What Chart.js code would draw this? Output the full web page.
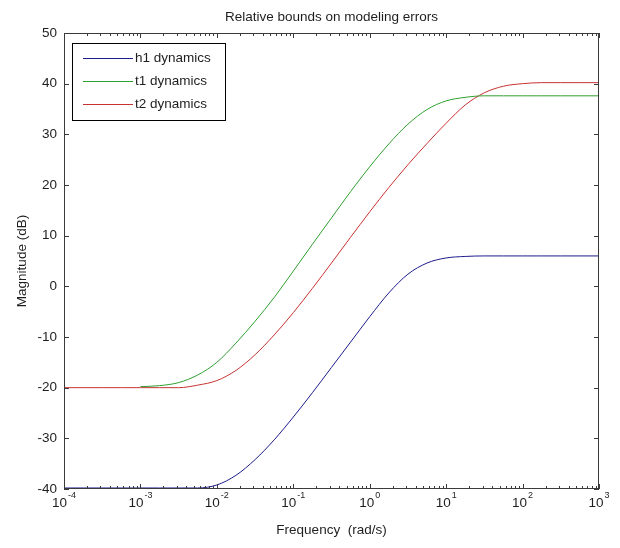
<!DOCTYPE html>
<html><head><meta charset="utf-8">
<script src="https://cdn.jsdelivr.net/npm/chart.js@4"></script>
<style>html,body{margin:0;padding:0;background:#fff;}#wrap{width:620px;height:548px;}</style>
</head><body><div id="wrap"><canvas id="c" width="620" height="548"></canvas></div>
<script>
// ---- data ----
const frequency = [
  1e-4, 1.778e-4, 3.162e-4, 5.623e-4,
  1e-3, 1.778e-3, 3.162e-3, 5.623e-3,
  1e-2, 1.778e-2, 3.162e-2, 5.623e-2,
  1e-1, 1.778e-1, 3.162e-1, 5.623e-1,
  1, 1.778, 3.162, 5.623,
  10, 17.78, 31.62, 56.23,
  100, 177.8, 316.2, 562.3,
  1000
];
const h1Dynamics = [
  -39.8, -39.8, -39.8, -39.8,
  -39.8, -39.8, -39.8, -39.8,
  -39.2, -37.3, -34.2, -30.3,
  -25.8, -21.0, -16.0, -11.0,
  -6.0, -1.3, 2.4, 4.6,
  5.6, 5.9, 6.0, 6.0,
  6.0, 6.0, 6.0, 6.0,
  6.0
];
const t1Dynamics = [
  null, null, null, null,
  -19.8, -19.6, -19.0, -17.5,
  -15.0, -11.2, -6.9, -2.2,
  3.0, 8.3, 13.5, 18.7,
  23.6, 28.1, 32.0, 34.9,
  36.6, 37.3, 37.6, 37.6,
  37.6, 37.6, 37.6, 37.6,
  37.6
];
const t2Dynamics = [
  -20.0, -20.0, -20.0, -20.0,
  -20.0, -20.0, -20.0, -19.5,
  -18.6, -16.6, -13.5, -9.6,
  -5.2, -0.4, 4.6, 9.7,
  14.7, 19.5, 24.0, 28.2,
  32.2, 35.8, 38.2, 39.5,
  40.0, 40.2, 40.2, 40.2,
  40.2
];
const seriesNames = ['h1 dynamics', 't1 dynamics', 't2 dynamics'];
const xTickExponents = ['-4', '-3', '-2', '-1', '0', '1', '2', '3'];
const yTickValues = [-40, -30, -20, -10, 0, 10, 20, 30, 40, 50];
const titleText = 'Relative bounds on modeling errors';
const xTitleText = 'Frequency  (rad/s)';
const yTitleText = 'Magnitude (dB)';

// ---- chart ----
const FONT = "'Liberation Sans', Arial, Helvetica, sans-serif";
const FS = 13.5;
const TEXT = '#1e1e1e';
const AXIS = '#3a3a3a';
const colors = ['#1c1c8c', '#2e9e2e', '#c83232'];
Chart.defaults.font.family = FONT;

function pts(values) { return frequency.map((f, i) => ({ x: f, y: values[i] })); }

const matlabAxes = {
  id: 'matlabAxes',
  afterDatasetsDraw(chart) {
    const { ctx, chartArea: a, scales: { x, y } } = chart;
    ctx.save();
    ctx.strokeStyle = AXIS;
    ctx.lineWidth = 1;
    ctx.strokeRect(Math.round(a.left) + 0.5, Math.round(a.top) + 0.5,
                   Math.round(a.right - a.left) - 1, Math.round(a.bottom - a.top) - 1);
    ctx.beginPath();
    for (const e of xTickExponents) {
      const base = Math.pow(10, Number(e));
      for (let m = 1; m <= 9; m++) {
        const v = base * m;
        if (v > x.max * 1.0001) break;
        const px = Math.round(x.getPixelForValue(v)) + 0.5;
        const len = m === 1 ? 5 : 3;
        ctx.moveTo(px, a.bottom); ctx.lineTo(px, a.bottom - len);
        ctx.moveTo(px, a.top); ctx.lineTo(px, a.top + len);
      }
    }
    for (const v of yTickValues) {
      const py = Math.round(y.getPixelForValue(v)) + 0.5;
      ctx.moveTo(a.left, py); ctx.lineTo(a.left + 5, py);
      ctx.moveTo(a.right, py); ctx.lineTo(a.right - 5, py);
    }
    ctx.stroke();
    ctx.restore();
  },
  afterDraw(chart) {
    const { ctx, scales: { x } } = chart;
    ctx.save();
    ctx.fillStyle = TEXT;
    ctx.textBaseline = 'alphabetic';
    ctx.textAlign = 'left';
    for (const e of xTickExponents) {
      const px = x.getPixelForValue(Math.pow(10, Number(e)));
      ctx.font = FS + 'px ' + FONT;
      const w1 = ctx.measureText('10').width;
      ctx.font = '9px ' + FONT;
      const w2 = ctx.measureText(e).width;
      const start = px - (w1 + w2 + 1) / 2;
      ctx.font = FS + 'px ' + FONT;
      ctx.fillText('10', start, 507);
      ctx.font = '9px ' + FONT;
      ctx.fillText(e, start + w1 + 1, 498);
    }
    const bx = 72.5, by = 43.5, bw = 153, bh = 77;
    ctx.fillStyle = '#ffffff';
    ctx.fillRect(bx, by, bw, bh);
    ctx.strokeStyle = '#000000';
    ctx.lineWidth = 1;
    ctx.strokeRect(bx, by, bw, bh);
    chart.data.datasets.forEach((ds, i) => {
      const ly = 58.5 + i * 23;
      ctx.strokeStyle = ds.borderColor;
      ctx.beginPath(); ctx.moveTo(83, ly); ctx.lineTo(133, ly); ctx.stroke();
      ctx.fillStyle = TEXT;
      ctx.font = FS + 'px ' + FONT;
      ctx.textBaseline = 'middle';
      ctx.fillText(ds.label, 135, ly);
    });
    ctx.restore();
  }
};

new Chart(document.getElementById('c'), {
  type: 'line',
  data: {
    datasets: [
      { label: seriesNames[0], data: pts(h1Dynamics), borderColor: colors[0] },
      { label: seriesNames[1], data: pts(t1Dynamics), borderColor: colors[1] },
      { label: seriesNames[2], data: pts(t2Dynamics), borderColor: colors[2] }
    ].map(d => Object.assign(d, {
      borderWidth: 1, pointRadius: 0, pointHoverRadius: 0, fill: false,
      cubicInterpolationMode: 'monotone', spanGaps: false
    }))
  },
  options: {
    responsive: false,
    animation: false,
    devicePixelRatio: 1,
    layout: { padding: { left: 0, right: 21, top: 0, bottom: 0 } },
    plugins: {
      legend: { display: false },
      tooltip: { enabled: false },
      title: {
        display: true, text: titleText, color: TEXT, fullSize: false,
        font: { size: FS, weight: 'normal' },
        padding: { top: 8.8, bottom: 8 }
      }
    },
    scales: {
      x: {
        type: 'logarithmic', min: 1e-4, max: 1e3, position: 'bottom',
        grid: { display: false, drawTicks: false },
        border: { display: false },
        ticks: { display: false },
        afterBuildTicks: s => { s.ticks = xTickExponents.map(e => ({ value: Math.pow(10, Number(e)) })); },
        afterFit: s => { s.height = 59; },
        title: { display: true, text: xTitleText, color: TEXT, font: { size: FS }, padding: { top: 0, bottom: 10 } }
      },
      y: {
        type: 'linear', min: -40, max: 50, position: 'left',
        grid: { display: false, drawTicks: false },
        border: { display: false },
        afterBuildTicks: s => { s.ticks = yTickValues.map(v => ({ value: v })); },
        ticks: { color: TEXT, font: { size: FS }, padding: 7 },
        afterFit: s => { s.width = 64; },
        title: { display: true, text: yTitleText, color: TEXT, font: { size: FS }, padding: { top: 14, bottom: 0 } }
      }
    }
  },
  plugins: [matlabAxes]
});
</script>
</body></html>
